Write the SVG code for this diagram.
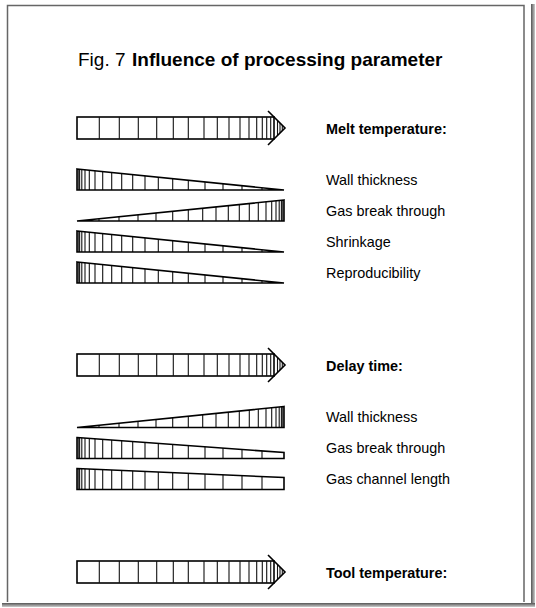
<svg xmlns="http://www.w3.org/2000/svg" xmlns:xlink="http://www.w3.org/1999/xlink" width="536" height="608" viewBox="0 0 536 608">
<style>
.ol{fill:none;stroke:#000;stroke-width:1.6;stroke-linejoin:miter}
.tk{stroke:#111;stroke-width:1.1}
.lbl{font-family:"Liberation Sans",Arial,sans-serif;font-size:14.4px;fill:#000}
.b{font-weight:bold}
.ttl{font-family:"Liberation Sans",Arial,sans-serif;font-size:19px;fill:#000}
.frame{fill:none;stroke:#666;stroke-width:1.5}
</style>
<defs>
<linearGradient id="shR" x1="0" y1="0" x2="1" y2="0"><stop offset="0" stop-color="#555"/><stop offset="1" stop-color="#ccc"/></linearGradient>
<linearGradient id="shB" x1="0" y1="0" x2="0" y2="1"><stop offset="0" stop-color="#555"/><stop offset="1" stop-color="#ccc"/></linearGradient>
<g id="ticks" class="tk">
<line x1="185" y1="0" x2="185" y2="21"/><line x1="165" y1="0" x2="165" y2="21"/><line x1="146" y1="0" x2="146" y2="21"/><line x1="128" y1="0" x2="128" y2="21"/><line x1="111.3" y1="0" x2="111.3" y2="21"/><line x1="95.7" y1="0" x2="95.7" y2="21"/><line x1="81.3" y1="0" x2="81.3" y2="21"/><line x1="68" y1="0" x2="68" y2="21"/><line x1="55.7" y1="0" x2="55.7" y2="21"/><line x1="44.7" y1="0" x2="44.7" y2="21"/><line x1="34.7" y1="0" x2="34.7" y2="21"/><line x1="25.7" y1="0" x2="25.7" y2="21"/><line x1="18" y1="0" x2="18" y2="21"/><line x1="12.3" y1="0" x2="12.3" y2="21"/><line x1="8" y1="0" x2="8" y2="21"/><line x1="4.8" y1="0" x2="4.8" y2="21"/><line x1="2.6" y1="0" x2="2.6" y2="21"/><line x1="1.2" y1="0" x2="1.2" y2="21"/>
</g>
<clipPath id="cTri"><polygon points="0,0 207,21 0,21"/></clipPath>
<clipPath id="cB"><polygon points="0,0 207,15 207,21 0,21"/></clipPath>
<clipPath id="cC"><polygon points="0,0 207,9 207,21 0,21"/></clipPath>
<g id="wedge">
<use xlink:href="#ticks" clip-path="url(#cTri)"/>
<polygon class="ol" points="0,0 207,21 0,21"/>
</g>
<g id="arrow">
<rect class="ol" x="0" y="0" width="197" height="22"/>
<g class="tk">
<line x1="22.3" y1="0" x2="22.3" y2="22"/><line x1="42.3" y1="0" x2="42.3" y2="22"/><line x1="61.3" y1="0" x2="61.3" y2="22"/><line x1="79.7" y1="0" x2="79.7" y2="22"/><line x1="96.3" y1="0" x2="96.3" y2="22"/><line x1="111.3" y1="0" x2="111.3" y2="22"/><line x1="127" y1="0" x2="127" y2="22"/><line x1="140.3" y1="0" x2="140.3" y2="22"/><line x1="152" y1="0" x2="152" y2="22"/><line x1="163" y1="0" x2="163" y2="22"/><line x1="172" y1="0" x2="172" y2="22"/><line x1="179.7" y1="0" x2="179.7" y2="22"/><line x1="185.3" y1="0" x2="185.3" y2="22"/><line x1="189.7" y1="0" x2="189.7" y2="22"/><line x1="193.7" y1="0" x2="193.7" y2="22"/>
<line x1="200.5" y1="3.5" x2="200.5" y2="18.5"/><line x1="203" y1="6" x2="203" y2="16"/><line x1="205.3" y1="8.3" x2="205.3" y2="13.7"/>
</g>
<polyline class="ol" points="191,-6 208,11 191,28"/>
</g>
</defs>

<g id="frame">
<rect x="531" y="4" width="4" height="603" fill="url(#shR)"/>
<rect x="2" y="603" width="533" height="4" fill="url(#shB)"/>
<polyline class="frame" points="7.5,602 7.5,5.5 524,5.5 524,602"/>
</g>

<g id="title">
<text class="ttl" x="78" y="66">Fig. 7</text>
<text class="ttl b" x="132" y="66">Influence of processing parameter</text>
</g>

<g id="melt">
<use xlink:href="#arrow" transform="translate(77,117)"/>
<text class="lbl b" x="326" y="134">Melt temperature:</text>
</g>
<g id="melt-wall">
<use xlink:href="#wedge" transform="translate(77,169)"/>
<text class="lbl" x="326" y="185">Wall thickness</text>
</g>
<g id="melt-gas">
<use xlink:href="#wedge" transform="translate(284,200) scale(-1,1)"/>
<text class="lbl" x="326" y="216">Gas break through</text>
</g>
<g id="melt-shrink">
<use xlink:href="#wedge" transform="translate(77,231)"/>
<text class="lbl" x="326" y="247">Shrinkage</text>
</g>
<g id="melt-repro">
<use xlink:href="#wedge" transform="translate(77,262)"/>
<text class="lbl" x="326" y="278">Reproducibility</text>
</g>

<g id="delay">
<use xlink:href="#arrow" transform="translate(77,354)"/>
<text class="lbl b" x="326" y="371">Delay time:</text>
</g>
<g id="delay-wall">
<use xlink:href="#wedge" transform="translate(284,406.5) scale(-1,1)"/>
<text class="lbl" x="326" y="422">Wall thickness</text>
</g>
<g id="delay-gas">
<g transform="translate(77,437.5)">
<use xlink:href="#ticks" clip-path="url(#cB)"/>
<polygon class="ol" points="0,0 207,15 207,21 0,21"/>
</g>
<text class="lbl" x="326" y="453">Gas break through</text>
</g>
<g id="delay-channel">
<g transform="translate(77,468.5)">
<use xlink:href="#ticks" clip-path="url(#cC)"/>
<polygon class="ol" points="0,0 207,9 207,21 0,21"/>
</g>
<text class="lbl" x="326" y="484">Gas channel length</text>
</g>

<g id="tool">
<use xlink:href="#arrow" transform="translate(77,561)"/>
<text class="lbl b" x="326" y="578">Tool temperature:</text>
</g>
</svg>
